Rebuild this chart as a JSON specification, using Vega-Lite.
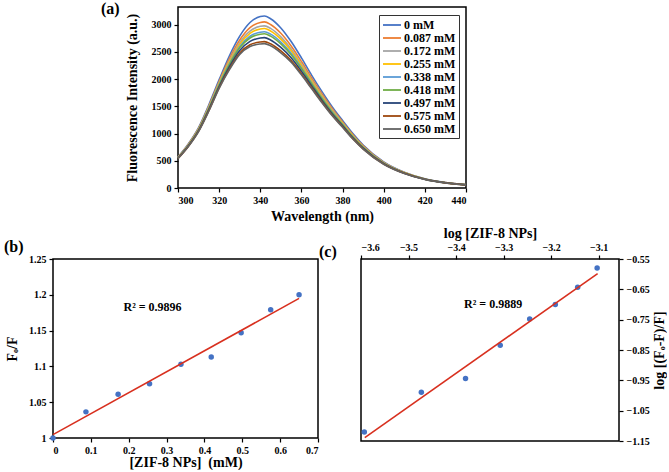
{
  "$schema": "https://vega.github.io/schema/vega-lite/v6.json",
  "padding": {"left": 3, "top": 0, "right": 0, "bottom": 0},
  "background": "white",
  "bounds": "full",
  "spacing": 1,
  "config": {
    "font": "Liberation Serif",
    "view": {"stroke": "#000", "strokeWidth": 1.5},
    "axis": {
      "grid": false, "domain": false, "labelOverlap": false,
      "tickColor": "#000", "tickSize": 4, "tickWidth": 1.2,
      "labelFont": "Liberation Serif", "labelFontWeight": "bold", "labelFontSize": 10, "labelColor": "#000", "labelPadding": 3,
      "titleFont": "Liberation Serif", "titleFontWeight": "bold", "titleFontSize": 14, "titleColor": "#000", "titlePadding": 5
    },
    "title": {"font": "Liberation Serif", "fontWeight": "bold", "fontSize": 16, "color": "#000", "anchor": "start", "frame": "group", "offset": 0, "baseline": "bottom"}
  },
  "vconcat": [
    {
      "bounds": "flush",
      "spacing": 20,
      "hconcat": [
        {
          "width": 105, "height": 181,
          "view": {"stroke": null},
          "data": {"values": []},
          "mark": {"type": "point", "opacity": 0},
          "encoding": {}
        },
        {
          "width": 288, "height": 181,
          "title": {"text": "(a)", "dx": -77, "dy": 14},
          "data": {"values": [
{"c":"0 mM","w":300,"v":570},{"c":"0 mM","w":305,"v":810},{"c":"0 mM","w":310,"v":1110},{"c":"0 mM","w":315,"v":1530},{"c":"0 mM","w":320,"v":1990},{"c":"0 mM","w":325,"v":2430},{"c":"0 mM","w":330,"v":2790},{"c":"0 mM","w":335,"v":3040},{"c":"0 mM","w":340,"v":3150},{"c":"0 mM","w":342,"v":3160},{"c":"0 mM","w":345,"v":3110},{"c":"0 mM","w":350,"v":2940},{"c":"0 mM","w":355,"v":2690},{"c":"0 mM","w":360,"v":2390},{"c":"0 mM","w":365,"v":2070},{"c":"0 mM","w":370,"v":1770},{"c":"0 mM","w":375,"v":1490},{"c":"0 mM","w":380,"v":1240},{"c":"0 mM","w":385,"v":1000},{"c":"0 mM","w":390,"v":790},{"c":"0 mM","w":400,"v":480},{"c":"0 mM","w":410,"v":290},{"c":"0 mM","w":420,"v":170},{"c":"0 mM","w":430,"v":100},{"c":"0 mM","w":440,"v":60},
{"c":"0.087 mM","w":300,"v":564},{"c":"0.087 mM","w":305,"v":800},{"c":"0.087 mM","w":310,"v":1095},{"c":"0.087 mM","w":315,"v":1505},{"c":"0.087 mM","w":320,"v":1956},{"c":"0.087 mM","w":325,"v":2375},{"c":"0.087 mM","w":330,"v":2718},{"c":"0.087 mM","w":335,"v":2946},{"c":"0.087 mM","w":340,"v":3042},{"c":"0.087 mM","w":342,"v":3051},{"c":"0.087 mM","w":345,"v":3004},{"c":"0.087 mM","w":350,"v":2842},{"c":"0.087 mM","w":355,"v":2609},{"c":"0.087 mM","w":360,"v":2323},{"c":"0.087 mM","w":365,"v":2017},{"c":"0.087 mM","w":370,"v":1726},{"c":"0.087 mM","w":375,"v":1455},{"c":"0.087 mM","w":380,"v":1213},{"c":"0.087 mM","w":385,"v":979},{"c":"0.087 mM","w":390,"v":774},{"c":"0.087 mM","w":400,"v":471},{"c":"0.087 mM","w":410,"v":285},{"c":"0.087 mM","w":420,"v":167},{"c":"0.087 mM","w":430,"v":99},{"c":"0.087 mM","w":440,"v":59},
{"c":"0.172 mM","w":300,"v":560},{"c":"0.172 mM","w":305,"v":792},{"c":"0.172 mM","w":310,"v":1084},{"c":"0.172 mM","w":315,"v":1489},{"c":"0.172 mM","w":320,"v":1933},{"c":"0.172 mM","w":325,"v":2339},{"c":"0.172 mM","w":330,"v":2670},{"c":"0.172 mM","w":335,"v":2883},{"c":"0.172 mM","w":340,"v":2970},{"c":"0.172 mM","w":342,"v":2978},{"c":"0.172 mM","w":345,"v":2933},{"c":"0.172 mM","w":350,"v":2777},{"c":"0.172 mM","w":355,"v":2555},{"c":"0.172 mM","w":360,"v":2279},{"c":"0.172 mM","w":365,"v":1981},{"c":"0.172 mM","w":370,"v":1697},{"c":"0.172 mM","w":375,"v":1431},{"c":"0.172 mM","w":380,"v":1196},{"c":"0.172 mM","w":385,"v":964},{"c":"0.172 mM","w":390,"v":763},{"c":"0.172 mM","w":400,"v":465},{"c":"0.172 mM","w":410,"v":282},{"c":"0.172 mM","w":420,"v":166},{"c":"0.172 mM","w":430,"v":98},{"c":"0.172 mM","w":440,"v":59},
{"c":"0.255 mM","w":300,"v":557},{"c":"0.255 mM","w":305,"v":788},{"c":"0.255 mM","w":310,"v":1077},{"c":"0.255 mM","w":315,"v":1478},{"c":"0.255 mM","w":320,"v":1918},{"c":"0.255 mM","w":325,"v":2315},{"c":"0.255 mM","w":330,"v":2639},{"c":"0.255 mM","w":335,"v":2841},{"c":"0.255 mM","w":340,"v":2922},{"c":"0.255 mM","w":342,"v":2930},{"c":"0.255 mM","w":345,"v":2885},{"c":"0.255 mM","w":350,"v":2734},{"c":"0.255 mM","w":355,"v":2520},{"c":"0.255 mM","w":360,"v":2249},{"c":"0.255 mM","w":365,"v":1958},{"c":"0.255 mM","w":370,"v":1678},{"c":"0.255 mM","w":375,"v":1416},{"c":"0.255 mM","w":380,"v":1184},{"c":"0.255 mM","w":385,"v":955},{"c":"0.255 mM","w":390,"v":756},{"c":"0.255 mM","w":400,"v":461},{"c":"0.255 mM","w":410,"v":280},{"c":"0.255 mM","w":420,"v":165},{"c":"0.255 mM","w":430,"v":97},{"c":"0.255 mM","w":440,"v":59},
{"c":"0.338 mM","w":300,"v":553},{"c":"0.338 mM","w":305,"v":782},{"c":"0.338 mM","w":310,"v":1069},{"c":"0.338 mM","w":315,"v":1464},{"c":"0.338 mM","w":320,"v":1899},{"c":"0.338 mM","w":325,"v":2284},{"c":"0.338 mM","w":330,"v":2599},{"c":"0.338 mM","w":335,"v":2788},{"c":"0.338 mM","w":340,"v":2862},{"c":"0.338 mM","w":342,"v":2869},{"c":"0.338 mM","w":345,"v":2826},{"c":"0.338 mM","w":350,"v":2680},{"c":"0.338 mM","w":355,"v":2475},{"c":"0.338 mM","w":360,"v":2212},{"c":"0.338 mM","w":365,"v":1928},{"c":"0.338 mM","w":370,"v":1653},{"c":"0.338 mM","w":375,"v":1396},{"c":"0.338 mM","w":380,"v":1169},{"c":"0.338 mM","w":385,"v":943},{"c":"0.338 mM","w":390,"v":747},{"c":"0.338 mM","w":400,"v":455},{"c":"0.338 mM","w":410,"v":277},{"c":"0.338 mM","w":420,"v":163},{"c":"0.338 mM","w":430,"v":97},{"c":"0.338 mM","w":440,"v":58},
{"c":"0.418 mM","w":300,"v":551},{"c":"0.418 mM","w":305,"v":778},{"c":"0.418 mM","w":310,"v":1064},{"c":"0.418 mM","w":315,"v":1456},{"c":"0.418 mM","w":320,"v":1888},{"c":"0.418 mM","w":325,"v":2266},{"c":"0.418 mM","w":330,"v":2575},{"c":"0.418 mM","w":335,"v":2756},{"c":"0.418 mM","w":340,"v":2826},{"c":"0.418 mM","w":342,"v":2833},{"c":"0.418 mM","w":345,"v":2790},{"c":"0.418 mM","w":350,"v":2647},{"c":"0.418 mM","w":355,"v":2448},{"c":"0.418 mM","w":360,"v":2190},{"c":"0.418 mM","w":365,"v":1910},{"c":"0.418 mM","w":370,"v":1639},{"c":"0.418 mM","w":375,"v":1384},{"c":"0.418 mM","w":380,"v":1160},{"c":"0.418 mM","w":385,"v":936},{"c":"0.418 mM","w":390,"v":742},{"c":"0.418 mM","w":400,"v":452},{"c":"0.418 mM","w":410,"v":275},{"c":"0.418 mM","w":420,"v":162},{"c":"0.418 mM","w":430,"v":96},{"c":"0.418 mM","w":440,"v":58},
{"c":"0.497 mM","w":300,"v":547},{"c":"0.497 mM","w":305,"v":772},{"c":"0.497 mM","w":310,"v":1054},{"c":"0.497 mM","w":315,"v":1440},{"c":"0.497 mM","w":320,"v":1865},{"c":"0.497 mM","w":325,"v":2230},{"c":"0.497 mM","w":330,"v":2527},{"c":"0.497 mM","w":335,"v":2694},{"c":"0.497 mM","w":340,"v":2755},{"c":"0.497 mM","w":342,"v":2762},{"c":"0.497 mM","w":345,"v":2720},{"c":"0.497 mM","w":350,"v":2582},{"c":"0.497 mM","w":355,"v":2394},{"c":"0.497 mM","w":360,"v":2146},{"c":"0.497 mM","w":365,"v":1876},{"c":"0.497 mM","w":370,"v":1610},{"c":"0.497 mM","w":375,"v":1361},{"c":"0.497 mM","w":380,"v":1143},{"c":"0.497 mM","w":385,"v":922},{"c":"0.497 mM","w":390,"v":731},{"c":"0.497 mM","w":400,"v":446},{"c":"0.497 mM","w":410,"v":272},{"c":"0.497 mM","w":420,"v":161},{"c":"0.497 mM","w":430,"v":95},{"c":"0.497 mM","w":440,"v":58},
{"c":"0.575 mM","w":300,"v":543},{"c":"0.575 mM","w":305,"v":764},{"c":"0.575 mM","w":310,"v":1043},{"c":"0.575 mM","w":315,"v":1423},{"c":"0.575 mM","w":320,"v":1842},{"c":"0.575 mM","w":325,"v":2193},{"c":"0.575 mM","w":330,"v":2479},{"c":"0.575 mM","w":335,"v":2631},{"c":"0.575 mM","w":340,"v":2682},{"c":"0.575 mM","w":342,"v":2689},{"c":"0.575 mM","w":345,"v":2649},{"c":"0.575 mM","w":350,"v":2517},{"c":"0.575 mM","w":355,"v":2340},{"c":"0.575 mM","w":360,"v":2101},{"c":"0.575 mM","w":365,"v":1840},{"c":"0.575 mM","w":370,"v":1581},{"c":"0.575 mM","w":375,"v":1338},{"c":"0.575 mM","w":380,"v":1125},{"c":"0.575 mM","w":385,"v":907},{"c":"0.575 mM","w":390,"v":720},{"c":"0.575 mM","w":400,"v":440},{"c":"0.575 mM","w":410,"v":269},{"c":"0.575 mM","w":420,"v":159},{"c":"0.575 mM","w":430,"v":94},{"c":"0.575 mM","w":440,"v":57},
{"c":"0.650 mM","w":300,"v":541},{"c":"0.650 mM","w":305,"v":761},{"c":"0.650 mM","w":310,"v":1038},{"c":"0.650 mM","w":315,"v":1415},{"c":"0.650 mM","w":320,"v":1831},{"c":"0.650 mM","w":325,"v":2175},{"c":"0.650 mM","w":330,"v":2455},{"c":"0.650 mM","w":335,"v":2599},{"c":"0.650 mM","w":340,"v":2646},{"c":"0.650 mM","w":342,"v":2653},{"c":"0.650 mM","w":345,"v":2613},{"c":"0.650 mM","w":350,"v":2484},{"c":"0.650 mM","w":355,"v":2313},{"c":"0.650 mM","w":360,"v":2079},{"c":"0.650 mM","w":365,"v":1822},{"c":"0.650 mM","w":370,"v":1566},{"c":"0.650 mM","w":375,"v":1326},{"c":"0.650 mM","w":380,"v":1116},{"c":"0.650 mM","w":385,"v":900},{"c":"0.650 mM","w":390,"v":715},{"c":"0.650 mM","w":400,"v":437},{"c":"0.650 mM","w":410,"v":267},{"c":"0.650 mM","w":420,"v":158},{"c":"0.650 mM","w":430,"v":94},{"c":"0.650 mM","w":440,"v":57}
          ]},
          "mark": {"type": "line", "strokeWidth": 1.6, "interpolate": "monotone"},
          "encoding": {
            "x": {"field": "w", "type": "quantitative", "scale": {"domain": [300, 440], "nice": false, "zero": false},
                  "axis": {"values": [300, 320, 340, 360, 380, 400, 420, 440], "format": "d", "labelOverlap": false, "title": "Wavelength (nm)", "titlePadding": 4}},
            "y": {"field": "v", "type": "quantitative", "scale": {"domain": [0, 3325], "nice": false},
                  "axis": {"values": [0, 500, 1000, 1500, 2000, 2500, 3000], "format": "d", "labelOverlap": false, "title": "Fluorescence Intensity (a.u.)", "titlePadding": 12}},
            "color": {"field": "c", "type": "nominal",
                      "scale": {"domain": ["0 mM", "0.087 mM", "0.172 mM", "0.255 mM", "0.338 mM", "0.418 mM", "0.497 mM", "0.575 mM", "0.650 mM"],
                                "range": ["#4472C4", "#ED7D31", "#A5A5A5", "#FFC000", "#5B9BD5", "#70AD47", "#264478", "#9E480E", "#636363"]},
                      "legend": {"title": null, "titlePadding": 0, "orient": "none", "legendX": 326, "legendY": 8,
                                 "strokeColor": "#333", "fillColor": "white", "padding": 3,
                                 "symbolType": "M-1,0H2", "symbolSize": 144, "symbolStrokeWidth": 1.8,
                                 "rowPadding": 0, "labelOffset": 8,
                                 "labelFont": "Liberation Serif", "labelFontWeight": "bold", "labelFontSize": 12, "labelColor": "#000"}}
          }
        }
      ]
    },
    {
      "bounds": "flush",
      "spacing": 43,
      "hconcat": [
        {
          "width": 265, "height": 179,
          "title": {"text": "(b)", "dx": -49, "dy": 5},
          "encoding": {
            "x": {"field": "x", "type": "quantitative", "scale": {"domain": [0, 0.7], "nice": false},
                  "axis": {"values": [0, 0.1, 0.2, 0.3, 0.4, 0.5, 0.6, 0.7], "tickCount": 20, "format": "~g", "labelOverlap": false, "title": "[ZIF-8 NPs]\u00a0\u00a0(mM)", "titlePadding": 0}},
            "y": {"field": "y", "type": "quantitative", "scale": {"domain": [1, 1.25], "nice": false, "zero": false},
                  "axis": {"values": [1, 1.05, 1.1, 1.15, 1.2, 1.25], "tickCount": 20, "format": "~g", "labelOverlap": false, "title": "Fₒ/F", "titlePadding": 9}}
          },
          "layer": [
            {
              "data": {"values": [
                {"x": 0, "y": 1.0}, {"x": 0.087, "y": 1.0365}, {"x": 0.172, "y": 1.061}, {"x": 0.255, "y": 1.0758},
                {"x": 0.338, "y": 1.103}, {"x": 0.418, "y": 1.113}, {"x": 0.497, "y": 1.147}, {"x": 0.575, "y": 1.179}, {"x": 0.65, "y": 1.2}
              ]},
              "mark": {"type": "point", "shape": "circle", "filled": true, "size": 30, "color": "#4472C4", "opacity": 1, "clip": false}
            },
            {
              "data": {"values": [{"x": 0, "y": 1.0047}, {"x": 0.65, "y": 1.195}]},
              "mark": {"type": "line", "color": "#D8301F", "strokeWidth": 1.6}
            },
            {
              "data": {"values": [{"x": 0.263, "y": 1.183, "t": "R² = 0.9896"}]},
              "mark": {"type": "text", "font": "Liberation Serif", "fontWeight": "bold", "fontSize": 12, "color": "#000"},
              "encoding": {"text": {"field": "t"}}
            }
          ]
        },
        {
          "width": 258, "height": 182,
          "title": {"text": "(c)", "dx": -42, "dy": 38},
          "encoding": {
            "x": {"field": "x", "type": "quantitative", "scale": {"domain": [-3.6, -3.057], "nice": false, "zero": false},
                  "axis": {"orient": "top", "values": [-3.6, -3.5, -3.4, -3.3, -3.2, -3.1], "tickCount": 20, "format": ".1f", "labelOverlap": false, "title": "log [ZIF-8 NPs]", "titlePadding": 2}},
            "y": {"field": "y", "type": "quantitative", "scale": {"domain": [-1.15, -0.55], "nice": false, "zero": false},
                  "axis": {"orient": "right", "values": [-1.15, -1.05, -0.95, -0.85, -0.75, -0.65, -0.55], "tickCount": 20, "format": ".2f", "labelOverlap": false, "title": "log [(Fₒ-F)/F]", "titleAngle": 270, "titlePadding": 17}}
          },
          "layer": [
            {
              "data": {"values": [
                {"x": -3.593, "y": -1.12}, {"x": -3.473, "y": -0.989}, {"x": -3.38, "y": -0.944}, {"x": -3.307, "y": -0.834},
                {"x": -3.245, "y": -0.748}, {"x": -3.191, "y": -0.7}, {"x": -3.144, "y": -0.643}, {"x": -3.103, "y": -0.58}
              ]},
              "mark": {"type": "point", "shape": "circle", "filled": true, "size": 30, "color": "#4472C4", "opacity": 1, "clip": false}
            },
            {
              "data": {"values": [{"x": -3.592, "y": -1.139}, {"x": -3.102, "y": -0.598}]},
              "mark": {"type": "line", "color": "#D8301F", "strokeWidth": 1.6}
            },
            {
              "data": {"values": [{"x": -3.322, "y": -0.697, "t": "R² = 0.9889"}]},
              "mark": {"type": "text", "font": "Liberation Serif", "fontWeight": "bold", "fontSize": 12, "color": "#000"},
              "encoding": {"text": {"field": "t"}}
            }
          ]
        }
      ]
    }
  ]
}
